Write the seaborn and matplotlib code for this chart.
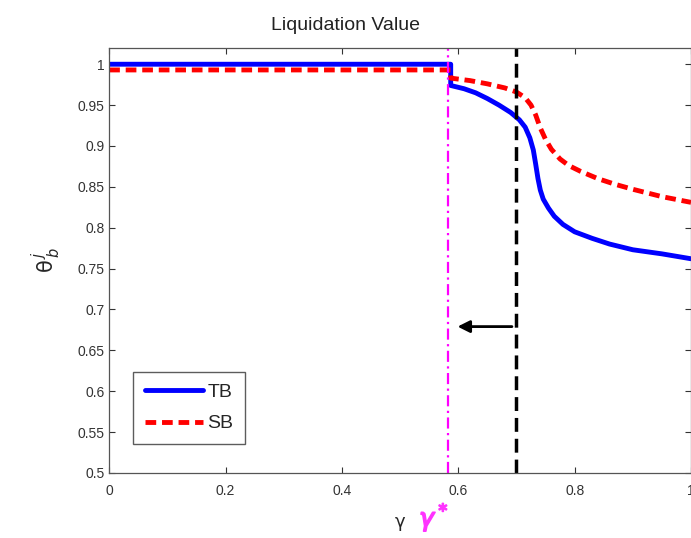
import pandas as pd
import seaborn as sns
import matplotlib.pyplot as plt
import matplotlib.patheffects as pe

# data
gamma_tb = [0.0, 0.587, 0.587, 0.61, 0.63, 0.65, 0.67, 0.69, 0.705, 0.715, 0.723,
            0.729, 0.733, 0.737, 0.741, 0.746, 0.755, 0.765, 0.78, 0.80, 0.83,
            0.86, 0.90, 0.95, 1.0]
theta_tb = [1.0, 1.0, 0.974, 0.970, 0.965, 0.958, 0.950, 0.941, 0.932, 0.923, 0.910,
            0.895, 0.878, 0.860, 0.846, 0.835, 0.824, 0.814, 0.804, 0.795, 0.787,
            0.780, 0.773, 0.768, 0.762]

gamma_sb = [0.0, 0.587, 0.587, 0.62, 0.65, 0.68, 0.70, 0.715, 0.725, 0.733, 0.741,
            0.75, 0.76, 0.775, 0.79, 0.81, 0.84, 0.87, 0.90, 0.95, 1.0]
theta_sb = [0.993, 0.993, 0.983, 0.980, 0.976, 0.971, 0.966, 0.959, 0.950, 0.938, 0.922,
            0.908, 0.896, 0.884, 0.876, 0.869, 0.860, 0.853, 0.847, 0.838, 0.831]

gamma_star = 0.582
gamma_threshold = 0.70
arrow_y = 0.679

xticks = [0, 0.2, 0.4, 0.6, 0.8, 1]
xtick_labels = ["0", "0.2", "0.4", "0.6", "0.8", "1"]
yticks = [0.5, 0.55, 0.6, 0.65, 0.7, 0.75, 0.8, 0.85, 0.9, 0.95, 1]
ytick_labels = ["0.5", "0.55", "0.6", "0.65", "0.7", "0.75", "0.8", "0.85", "0.9", "0.95", "1"]

df_tb = pd.DataFrame({"gamma": gamma_tb, "theta": theta_tb})
df_sb = pd.DataFrame({"gamma": gamma_sb, "theta": theta_sb})

sns.set_style("ticks")
plt.rcParams["font.family"] = ["Liberation Sans", "DejaVu Sans"]
plt.rcParams["xtick.direction"] = "in"
plt.rcParams["ytick.direction"] = "in"

fig = plt.figure(figsize=(6.91, 5.38), dpi=100)
ax = fig.add_axes([0.158, 0.121, 0.842, 0.79])

sns.lineplot(data=df_tb, x="gamma", y="theta", ax=ax, color="#0000ff", lw=3.5,
             estimator=None, sort=False, label="TB")
sns.lineplot(data=df_sb, x="gamma", y="theta", ax=ax, color="#ff0000", lw=3.5,
             linestyle=(0, (2.2, 1.2)), estimator=None, sort=False, label="SB")

ax.axvline(gamma_star, color="#ff00ff", lw=1.6, linestyle=(0, (5, 2, 1, 2)))
ax.axvline(gamma_threshold, color="black", lw=2.5, linestyle=(0, (4, 2)))
ax.annotate("", xy=(gamma_star + 0.012, arrow_y), xytext=(gamma_threshold - 0.003, arrow_y),
            arrowprops=dict(arrowstyle="-|>", color="black", lw=2, mutation_scale=18))

ax.set_xlim(0, 1)
ax.set_ylim(0.5, 1.02)
ax.set_xticks(xticks)
ax.set_xticklabels(xtick_labels)
ax.set_yticks(yticks)
ax.set_yticklabels(ytick_labels)
ax.tick_params(axis="both", labelsize=10, colors="#333333", length=4,
               top=True, right=True, width=0.8)
ax.tick_params(axis="x", pad=8)
for s in ax.spines.values():
    s.set_color("#555555")
    s.set_linewidth(0.9)

fig.text(0.5, 0.945, "Liquidation Value", fontsize=14, ha="center", color="#222222")
ax.set_xlabel(r"$\mathrm{\gamma}$", fontsize=13, labelpad=12)
ax.set_ylabel(r"$\mathrm{\theta}^{\,j}_{\,b}$", fontsize=15, labelpad=10)
gs = fig.text(0.628, 0.022, r"$\gamma^*$", color="#ff33ff", fontsize=18, ha="center")
gs.set_path_effects([pe.withStroke(linewidth=1.2, foreground="#ff33ff")])

leg = ax.legend(loc="lower left", bbox_to_anchor=(0.025, 0.045), fontsize=14,
                frameon=True, fancybox=False, edgecolor="#333333",
                handlelength=3, handletextpad=0.2, borderpad=0.6, labelspacing=0.7)
leg.get_frame().set_linewidth(1.0)

fig.savefig("out.png", dpi=100)
